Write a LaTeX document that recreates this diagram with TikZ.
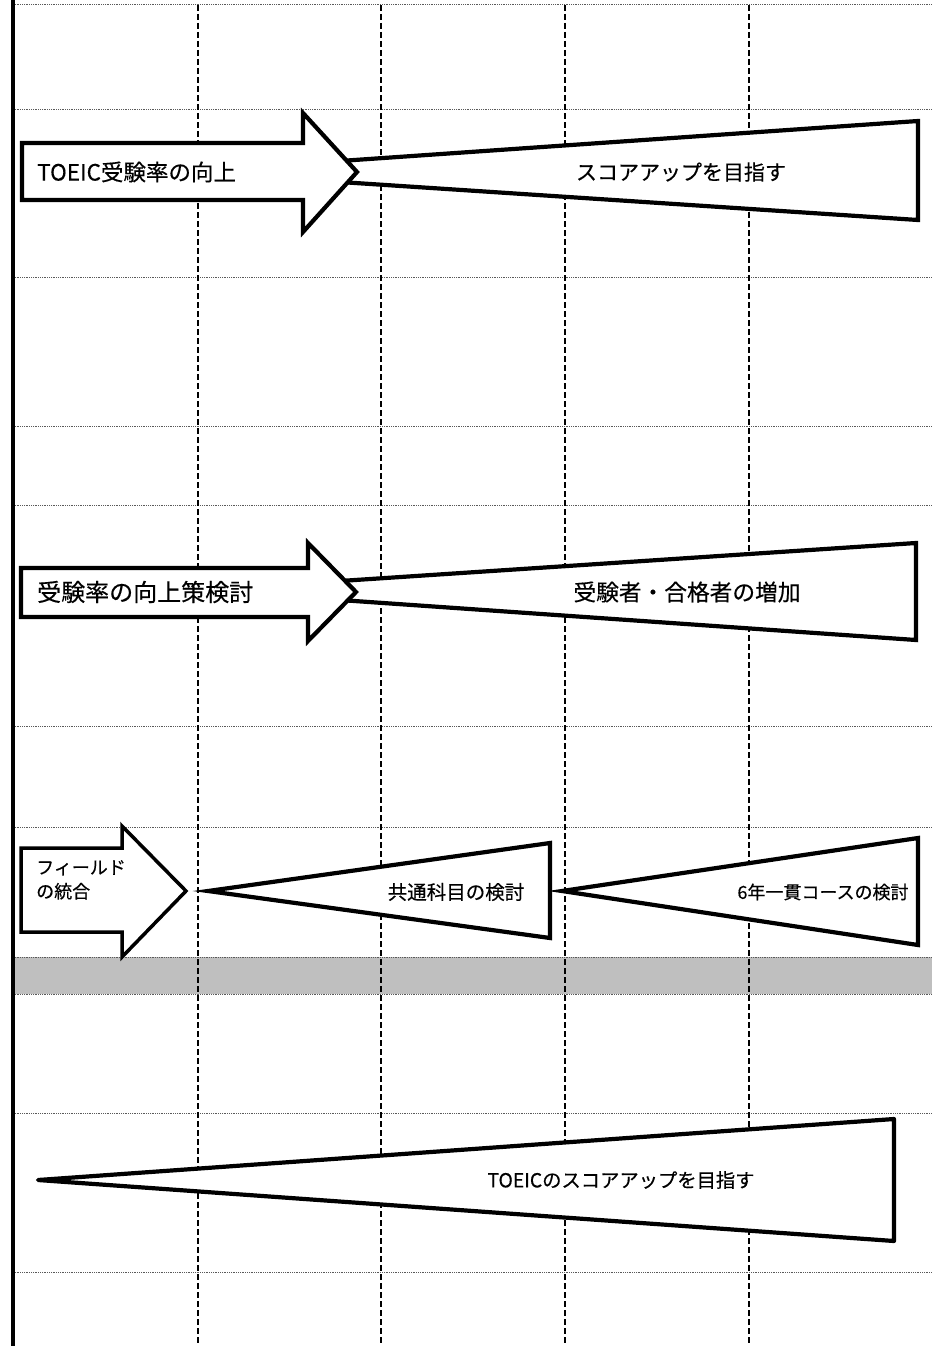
\documentclass[tikz,border=0pt]{standalone}
\usepackage{fontspec}
\setmainfont{Noto Sans CJK JP}[FakeBold=0.4]
\definecolor{bandgray}{RGB}{191,191,191}
\definecolor{rulegray}{RGB}{90,90,90}
\begin{document}
\begin{tikzpicture}[x=1pt,y=-1pt,
  hrule/.style={draw=rulegray, line width=1pt, dash pattern=on 1pt off 0.8pt},
  vrule/.style={draw=black, line width=1.6pt, dash pattern=on 6pt off 3pt},
  blockshape/.style={draw=black, fill=white, line width=4.2pt, line join=miter},
  thinblock/.style={draw=black, fill=white, line width=3.5pt, line join=miter},
  lbl/.style={inner sep=0pt, text=black}
]
\useasboundingbox (0,0) rectangle (932,1346);
\fill[white] (0,0) rectangle (932,1346);

% gray band
\fill[bandgray] (13,957) rectangle (932,994);

% horizontal dotted rules
\foreach \yy in {5,109,277,426,505,726,827,957,994,1113,1272}
  \draw[hrule] (13,\yy) -- (932,\yy);

% vertical dashed rules
\foreach \xx in {198,381,565,749}
  \draw[vrule] (\xx,5) -- (\xx,1346);

% left border
\draw[line width=4.2pt] (13,0) -- (13,1346);

% ---- row 1
\draw[blockshape] (340,161) -- (918,121) -- (918,220) -- (340,182) -- cycle;
\draw[blockshape] (22,143) -- (303,143) -- (303,113) -- (357,172) -- (303,232) -- (303,200) -- (22,200) -- cycle;
\node[lbl, anchor=west, font=\fontsize{22.5}{26}\selectfont] (t1) at (37,172) {TOEIC受験率の向上};
\node[lbl, font=\fontsize{21}{25}\selectfont] (t2) at (681,172) {スコアアップを目指す};

% ---- row 2
\draw[blockshape] (340,581) -- (916,543) -- (916,640) -- (340,600) -- cycle;
\draw[blockshape] (21,568) -- (308,568) -- (308,543) -- (356,592) -- (308,641) -- (308,617) -- (21,617) -- cycle;
\node[lbl, anchor=west, font=\fontsize{24}{28}\selectfont] (t3) at (37,592) {受験率の向上策検討};
\node[lbl, font=\fontsize{22.7}{26}\selectfont] (t4) at (687,592) {受験者・合格者の増加};

% ---- row 3
\draw[blockshape] (208,891) -- (550,843) -- (550,938) -- cycle;
\draw[blockshape] (562,891) -- (918,838) -- (918,945) -- cycle;
\draw[thinblock] (21,848) -- (122,848) -- (122,826) -- (186,891) -- (122,957) -- (122,932) -- (21,932) -- cycle;
\node[lbl, anchor=north west, align=left, font=\fontsize{18}{24}\selectfont] (t5) at (36,860) {フィールド\\の統合};
\node[lbl, font=\fontsize{19.5}{23}\selectfont] (t6) at (456,892) {共通科目の検討};
\node[lbl, font=\fontsize{18}{22}\selectfont] (t7) at (823,892) {6年一貫コースの検討};

% ---- row 4
\draw[blockshape, line join=round] (38,1180) -- (894,1119) -- (894,1241) -- cycle;
\node[lbl, font=\fontsize{19.3}{23}\selectfont] (t8) at (621,1180) {TOEICのスコアアップを目指す};
\end{tikzpicture}
\end{document}
